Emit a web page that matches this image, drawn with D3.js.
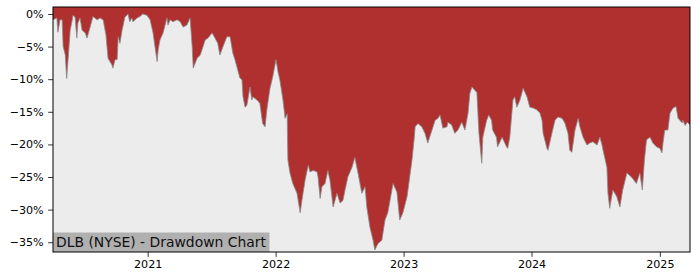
<!DOCTYPE html>
<html><head><meta charset="utf-8">
<script src="https://cdn.jsdelivr.net/npm/d3@7"></script>
<style>body{margin:0;background:#fff}svg{display:block}</style>
</head><body>
<script>
const dates = ["2020-04-06","2020-04-17","2020-04-20","2020-04-26","2020-05-02","2020-05-05","2020-05-11","2020-05-15","2020-05-19","2020-05-25","2020-05-31","2020-06-02","2020-06-08","2020-06-13","2020-06-16","2020-06-22","2020-06-28","2020-07-07","2020-07-12","2020-07-21","2020-07-29","2020-08-10","2020-08-18","2020-08-27","2020-09-04","2020-09-10","2020-09-21","2020-09-24","2020-09-30","2020-10-06","2020-10-09","2020-10-14","2020-10-20","2020-10-28","2020-11-06","2020-11-11","2020-11-17","2020-11-20","2020-12-02","2020-12-10","2020-12-18","2020-12-30",
"2021-01-08","2021-01-16","2021-01-28","2021-01-31","2021-02-05","2021-02-14","2021-02-25","2021-02-28","2021-03-06","2021-03-14","2021-03-26","2021-04-04","2021-04-12","2021-04-23","2021-05-02","2021-05-08","2021-05-11","2021-05-22","2021-05-31","2021-06-08","2021-06-14","2021-06-22","2021-07-04","2021-07-12","2021-07-20","2021-07-26","2021-08-04","2021-08-15","2021-08-24","2021-09-01","2021-09-07","2021-09-15","2021-09-21","2021-09-27","2021-09-30","2021-10-06","2021-10-11","2021-10-20","2021-10-25","2021-10-28","2021-11-09","2021-11-17","2021-11-25","2021-12-02","2021-12-07","2021-12-16","2021-12-24",
"2022-01-02","2022-01-08","2022-01-13","2022-01-22","2022-01-28","2022-02-03","2022-02-04","2022-02-05","2022-02-11","2022-02-19","2022-03-03","2022-03-12","2022-03-17","2022-03-26","2022-04-04","2022-04-09","2022-04-18","2022-04-29","2022-05-02","2022-05-08","2022-05-13","2022-05-22","2022-05-30","2022-06-05","2022-06-14","2022-06-25","2022-07-04","2022-07-12","2022-07-18","2022-07-26","2022-08-07","2022-08-15","2022-08-24","2022-09-04","2022-09-13","2022-09-18","2022-09-27","2022-10-06","2022-10-11","2022-10-20","2022-10-31","2022-11-09","2022-11-17","2022-12-02","2022-12-13","2022-12-21","2022-12-30",
"2023-01-11","2023-01-25","2023-01-31","2023-02-03","2023-02-11","2023-02-22","2023-03-03","2023-03-11","2023-03-23","2023-04-01","2023-04-09","2023-04-15","2023-04-23","2023-05-05","2023-05-07","2023-05-18","2023-05-27","2023-06-05","2023-06-16","2023-06-25","2023-07-04","2023-07-09","2023-07-15","2023-07-23","2023-07-29","2023-08-04","2023-08-12","2023-08-15","2023-08-26","2023-09-01","2023-09-09","2023-09-12","2023-09-23","2023-09-26","2023-10-09","2023-10-22","2023-10-25","2023-10-31","2023-11-09","2023-11-14","2023-11-20","2023-11-29","2023-12-08","2023-12-19","2023-12-27",
"2024-01-05","2024-01-16","2024-01-25","2024-01-31","2024-02-03","2024-02-14","2024-02-17","2024-02-28","2024-03-08","2024-03-16","2024-03-28","2024-04-05","2024-04-14","2024-04-19","2024-04-25","2024-05-04","2024-05-13","2024-05-18","2024-05-27","2024-06-07","2024-06-15","2024-06-24","2024-07-06","2024-07-14","2024-07-20","2024-07-23","2024-08-03","2024-08-06","2024-08-11","2024-08-20","2024-08-31","2024-09-09","2024-09-17","2024-09-29","2024-10-08","2024-10-15","2024-10-26","2024-11-05","2024-11-12","2024-11-18","2024-11-24","2024-12-04","2024-12-12","2024-12-23",
"2025-01-01","2025-01-07","2025-01-10","2025-01-15","2025-01-24","2025-01-30","2025-02-08","2025-02-16","2025-02-22","2025-03-06","2025-03-08","2025-03-14","2025-03-20","2025-03-28"];
const drawdown = [-0.9,-0.6,-2.8,-0.9,-0.9,-5,-6.3,-9.9,-7,-2.5,-0.9,-0.2,-0.5,-3.7,-1.4,-0.6,-2.5,-2.9,-3.7,-2,-0.4,-0.9,-0.6,-0.9,-3.2,-6.8,-7.8,-8.3,-7,-7,-3.5,-4.5,-2.5,-0.5,0,-1.2,-0.6,-1.2,-0.6,-0.4,0,-0.2,
-0.9,-2.8,-7.3,-5.5,-4,-2.9,-0.6,-1.7,-0.9,-1.2,-0.9,-1.2,-2,-1.7,-0.6,-5,-8.3,-6.8,-6.3,-5,-4,-3.7,-2.9,-3.7,-4.5,-6.3,-5,-3.5,-3.5,-6,-7,-8.6,-9.8,-10.1,-12.7,-14.3,-14,-11.2,-13.2,-12.7,-13.2,-13.7,-16.8,-17.3,-14.7,-11.4,-9.6,
-7,-8.9,-10.1,-13.2,-16,-15.3,-19.3,-22.4,-24.4,-26,-27.5,-30.5,-28.6,-25.5,-23.2,-24.2,-24,-24.2,-25,-28.3,-26.5,-26,-24,-25.5,-29.6,-27.5,-29,-28.6,-27,-25,-23.5,-22,-24.4,-27.5,-26.5,-29.6,-32.7,-34.7,-36.2,-35.2,-34.7,-31.6,-30.5,-26,-27.3,-31.6,-30.5,
-28,-22.4,-19.3,-17.3,-16.8,-17.3,-18.3,-19.8,-17.8,-16.3,-16,-15.5,-17.5,-17.3,-16.6,-17,-18.3,-17.8,-16.6,-17.8,-15.2,-12.2,-11.2,-11.7,-12,-18.3,-22.9,-18.9,-16.3,-15.5,-16.3,-17.8,-18.9,-20.4,-18.9,-20.4,-20.6,-18.9,-13.2,-12.7,-14.3,-13.2,-11.4,-12.7,-14.3,
-14.4,-14.7,-15.2,-16.3,-18.3,-20.6,-20.9,-18.3,-16.3,-15.8,-16,-16.7,-18.3,-20.9,-21.2,-17.8,-16,-17.3,-18.9,-20.1,-19.8,-19.6,-20.1,-18.9,-20.1,-20.9,-23.5,-27.5,-29.8,-27,-28,-29.6,-27,-24.4,-24.8,-25.2,-26,-24.4,-27,-22.4,-19.3,-18.9,-19.8,-20.4,
-20.6,-21.3,-19.8,-17.8,-17.8,-15.2,-14.4,-14.2,-16,-16.7,-16.3,-17.1,-16.6,-17];
const yTicks = [0,-5,-10,-15,-20,-25,-30,-35];
const xTickYears = ["2021","2022","2023","2024","2025"];
const title = "DLB (NYSE) - Drawdown Chart";

const W=700,H=280, m={l:53,r:10,t:7,b:28};
const parse = d3.timeParse("%Y-%m-%d");
const data = dates.map((d,i)=>({date:parse(d), v:drawdown[i]}));
const svg = d3.select("body").append("svg").attr("width",W).attr("height",H);
const x = d3.scaleTime().domain(d3.extent(data,d=>d.date)).range([m.l, W-m.r]);
const y = d3.scaleLinear().domain([-36.5, 1.07]).range([H-m.b, m.t]);

svg.append("rect").attr("x",m.l).attr("y",m.t).attr("width",W-m.r-m.l).attr("height",H-m.b-m.t).attr("fill","#ececec");
const clip = svg.append("clipPath").attr("id","c").append("rect").attr("x",m.l).attr("y",m.t).attr("width",W-m.r-m.l).attr("height",H-m.b-m.t);
const g = svg.append("g").attr("clip-path","url(#c)");
g.append("path").datum(data).attr("fill","#b03030")
  .attr("d", d3.area().x(d=>x(d.date)).y0(y(1.07)).y1(d=>y(d.v)));
g.append("path").datum(data).attr("fill","none").attr("stroke","#8a8a8a").attr("stroke-width",0.8)
  .attr("d", d3.line().x(d=>x(d.date)).y(d=>y(d.v)));

// label box
const lbl = svg.append("g");
const t = lbl.append("text").attr("x",m.l+3).attr("y",H-m.b-5.5).attr("font-family","DejaVu Sans").attr("font-size",13.9).attr("fill","#111").text(title);
const bb = t.node().getBBox();
lbl.insert("rect","text").attr("x",m.l).attr("y",H-m.b-19.5).attr("width",bb.width+6).attr("height",19.5).attr("fill","#b0b0b0");

const fmt = v => (v<0?"\u2212":"")+Math.abs(v)+"%";
const yAxis = svg.append("g").attr("transform",`translate(${m.l},0)`)
  .call(d3.axisLeft(y).tickValues(yTicks).tickFormat(fmt).tickSize(4.86).tickPadding(4.5));
const xAxis = svg.append("g").attr("transform",`translate(0,${H-m.b})`)
  .call(d3.axisBottom(x).tickValues(xTickYears.map(s=>parse(s+"-01-01"))).tickFormat(d3.timeFormat("%Y")).tickSize(4.86).tickPadding(3.5));
[yAxis,xAxis].forEach(a=>{a.select(".domain").remove();a.selectAll("text").attr("font-family","DejaVu Sans").attr("font-size",11.1).attr("fill","#000");a.selectAll("line").attr("stroke","#000").attr("stroke-width",0.8);});
svg.append("rect").attr("x",m.l).attr("y",m.t).attr("width",W-m.r-m.l).attr("height",H-m.b-m.t).attr("fill","none").attr("stroke","#000").attr("stroke-width",1);
</script>
</body></html>
